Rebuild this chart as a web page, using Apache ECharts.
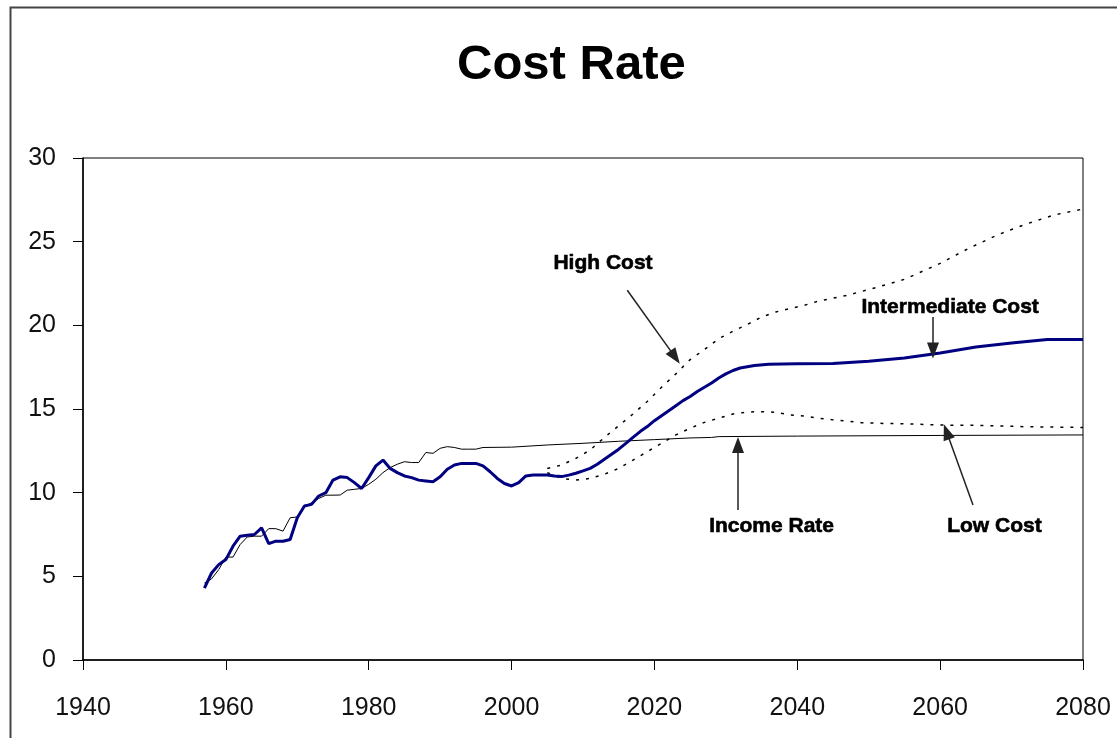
<!DOCTYPE html>
<html>
<head>
<meta charset="utf-8">
<script src="https://cdn.jsdelivr.net/npm/echarts@6/dist/echarts.min.js"></script>
<style>
html,body{margin:0;padding:0;background:#fff;}
#chart{width:1117px;height:738px;}
</style>
</head>
<body>
<div id="chart"></div>
<script>
// ---- Data ----
const intermediateYears = [1957,1958,1959,1960,1961,1962,1963,1964,1965,1966,1967,1968,1969,1970,1971,1972,1973,1974,1975,1976,1977,1978,1979,1980,1981,1982,1983,1984,1985,1986,1987,1988,1989,1990,1991,1992,1993,1994,1995,1996,1997,1998,1999,2000,2001,2002,2003,2004,2005,2006,2007,2008,2009,2010,2011,2012,2013,2014,2015,2016,2017,2018,2019,2020,2021,2022,2023,2024,2025,2026,2027,2028,2029,2030,2031,2032,2034,2036,2040,2045,2050,2055,2060,2065,2070,2075,2080];
const intermediateCost = [4.3,5.2,5.7,6.0,6.8,7.4,7.45,7.5,7.9,6.95,7.1,7.1,7.2,8.5,9.2,9.3,9.8,10.0,10.75,10.95,10.9,10.6,10.25,10.9,11.6,11.95,11.45,11.2,11.0,10.9,10.75,10.7,10.65,10.95,11.4,11.65,11.75,11.75,11.75,11.6,11.25,10.85,10.55,10.4,10.6,11.0,11.06,11.06,11.06,11.0,10.96,11.05,11.16,11.3,11.45,11.7,12.0,12.3,12.6,12.95,13.3,13.65,13.95,14.3,14.6,14.9,15.2,15.5,15.75,16.05,16.3,16.55,16.85,17.1,17.3,17.45,17.6,17.68,17.7,17.72,17.85,18.05,18.35,18.7,18.95,19.15,19.15];

const incomeYears = [1957,1958,1959,1960,1961,1962,1963,1964,1965,1966,1967,1968,1969,1970,1971,1972,1973,1974,1975,1976,1977,1978,1979,1980,1981,1982,1983,1984,1985,1986,1987,1988,1989,1990,1991,1992,1993,1994,1995,1996,2000,2005,2010,2015,2020,2025,2028,2029,2040,2060,2080];
const incomeRate = [4.6,4.85,5.4,6.15,6.15,6.9,7.35,7.4,7.4,7.85,7.85,7.7,8.5,8.55,9.15,9.4,9.65,9.85,9.85,9.86,10.15,10.2,10.25,10.5,10.8,11.2,11.5,11.7,11.85,11.8,11.8,12.4,12.35,12.65,12.75,12.7,12.6,12.6,12.6,12.7,12.72,12.85,12.95,13.07,13.17,13.27,13.3,13.35,13.38,13.42,13.45];

const highYears = [2005,2007,2009,2011,2013,2015,2017,2019,2021,2023,2025,2027,2029,2031,2033,2035,2037,2039,2041,2043,2047,2051,2055,2060,2064,2068,2072,2076,2080];
const highCost = [11.45,11.65,12.05,12.55,13.3,14.0,14.7,15.45,16.3,17.1,17.95,18.55,19.2,19.65,20.05,20.5,20.8,21.0,21.2,21.45,21.8,22.25,22.75,23.7,24.6,25.4,26.05,26.6,26.95];

const lowYears = [2005,2007,2009,2011,2013,2015,2017,2019,2021,2023,2025,2027,2029,2031,2033,2035,2037,2039,2041,2043,2045,2047,2049,2052,2055,2060,2066,2072,2080];
const lowCost = [11.2,10.85,10.75,10.85,11.1,11.45,11.95,12.45,12.95,13.45,13.85,14.2,14.45,14.7,14.82,14.84,14.8,14.65,14.58,14.45,14.35,14.28,14.18,14.14,14.12,14.04,14.02,13.94,13.9];

const yTicks = [0,5,10,15,20,25,30];
const xTicks = [1940,1960,1980,2000,2020,2040,2060,2080];

// annotation labels: [text, year, value]
const labelNames = ['High Cost','Intermediate Cost','Income Rate','Low Cost'];
const labelYears = [2012.8, 2061.4, 2036.4, 2067.6];
const labelValues = [23.7, 21.1, 7.97, 7.97];
// arrows: from (year,value) to (year,value)
const arrowFromYears = [2016.2, 2059.0, 2031.7, 2064.6];
const arrowFromValues = [22.1, 20.5, 8.96, 9.26];
const arrowToYears = [2022.9, 2059.0, 2031.7, 2060.9];
const arrowToValues = [18.1, 18.5, 12.85, 13.64];

const pairs = (xs, ys) => xs.map((x, i) => [x, ys[i]]);

const chart = echarts.init(document.getElementById('chart'));
const tickFont = "'Liberation Sans',Arial,sans-serif";
const boldFont = "'Liberation Sans',Arial,sans-serif";

chart.setOption({
  animation: false,
  backgroundColor: '#fff',
  title: {
    text: 'Cost Rate',
    left: 452, top: 36,
    textStyle: {fontFamily: boldFont, fontWeight: 'bold', fontSize: 49, color: '#000'}
  },
  graphic: [{
    type: 'rect', left: 8, top: 5,
    shape: {width: 1200, height: 800},
    style: {fill: 'none', stroke: '#444', lineWidth: 2},
    silent: true, z: 100
  }],
  grid: {left: 83, top: 158, right: 34, bottom: 78, show: true, borderColor: '#000', borderWidth: 1, backgroundColor: 'transparent'},
  xAxis: {
    type: 'value', min: 1940, max: 2080, interval: 20,
    axisLine: {show: true, lineStyle: {color: '#000', width: 1.5}},
    axisTick: {show: true, length: 10, lineStyle: {color: '#000', width: 1}},
    axisLabel: {fontFamily: tickFont, fontSize: 25, color: '#111', margin: 36,
      formatter: v => xTicks.indexOf(v) >= 0 ? String(v) : ''},
    splitLine: {show: false}
  },
  yAxis: {
    type: 'value', min: 0, max: 30, interval: 5,
    axisLine: {show: true, lineStyle: {color: '#000', width: 1.5}},
    axisTick: {show: true, length: 10, lineStyle: {color: '#000', width: 1}},
    axisLabel: {fontFamily: tickFont, fontSize: 25, color: '#111', margin: 27,
      formatter: v => yTicks.indexOf(v) >= 0 ? String(v) : ''},
    splitLine: {show: false}
  },
  series: [
    {
      name: 'Income Rate', type: 'line', data: pairs(incomeYears, incomeRate),
      showSymbol: false, symbol: 'none', z: 2,
      lineStyle: {color: '#000', width: 1}
    },
    {
      name: 'High Cost', type: 'line', data: pairs(highYears, highCost),
      symbol: 'none', z: 3,
      lineStyle: {color: '#000', width: 1.5, type: [3, 7]}
    },
    {
      name: 'Low Cost', type: 'line', data: pairs(lowYears, lowCost),
      symbol: 'none', z: 3,
      lineStyle: {color: '#000', width: 1.5, type: [3, 7]}
    },
    {
      name: 'Intermediate Cost', type: 'line', data: pairs(intermediateYears, intermediateCost),
      symbol: 'none', z: 4,
      lineStyle: {color: '#000080', width: 3}
    },
    {
      name: 'annotations', type: 'scatter', z: 5, silent: true,
      symbolSize: 0,
      itemStyle: {color: '#000', opacity: 1},
      data: labelNames.map((n, i) => ({name: n, value: [labelYears[i], labelValues[i]]})),
      label: {show: true, position: [0, 0], align: 'center', verticalAlign: 'middle',
        formatter: p => p.name, opacity: 1,
        fontFamily: boldFont, fontWeight: 'bold', fontSize: 21, color: '#000',
        textBorderColor: '#000', textBorderWidth: 0.6},
      markLine: {
        silent: true, symbol: ['none', 'triangle'], symbolSize: [12, 16],
        label: {show: false},
        lineStyle: {color: '#222', width: 1.5, type: 'solid'},
        data: arrowFromYears.map((x, i) => [
          {coord: [x, arrowFromValues[i]]},
          {coord: [arrowToYears[i], arrowToValues[i]]}
        ])
      }
    }
  ]
});
</script>
</body>
</html>
